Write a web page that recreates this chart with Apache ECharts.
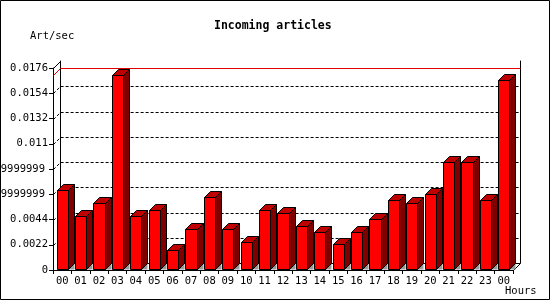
<!DOCTYPE html>
<html><head><meta charset="utf-8">
<script src="https://cdn.jsdelivr.net/npm/echarts@6/dist/echarts.min.js"></script>
<style>html,body{margin:0;padding:0;background:#fff}#c{width:550px;height:300px}</style>
</head><body><div id="c"></div>
<script>
const hours = ['00','01','02','03','04','05','06','07','08','09','10','11','12','13','14','15','16','17','18','19','20','21','22','23','00'];
const artPerSec = [0.0070,0.00474,0.00586,0.01695,0.00474,0.00526,0.00173,0.00361,0.00638,0.00361,0.00248,0.00526,0.0050,0.00387,0.00335,0.00223,0.00335,0.00448,0.00612,0.00586,0.00664,0.00941,0.00941,0.00612,0.01652];
const yTickLabels = ['0','0.0022','0.0044','0.0065999999999999','0.0087999999999999','0.011','0.0132','0.0154','0.0176'];
const yMax = 0.0176, yStep = 0.0022;

const FONT = 'DejaVu Sans Mono';
const D = 6;      // bar depth
const PD = 7;     // plane depth
const maxVal = Math.max.apply(null, artPerSec);

const chart = echarts.init(document.getElementById('c'), null, {renderer:'canvas'});
const px = v => Math.round(v) + 0.5;

chart.setOption({
  animation: false,
  backgroundColor: '#fff',
  title: {
    text: 'Incoming articles', left: 214, top: 20, padding: 0,
    textStyle: {fontFamily: FONT, fontWeight: 'bold', fontSize: 11.5, color: '#000'}
  },
  graphic: [
    {type:'rect', shape:{x:0.5,y:0.5,width:549,height:299}, style:{fill:null, stroke:'#000', lineWidth:1}, silent:true, z:100},
    {type:'text', x:30, y:31, style:{text:'Art/sec', font:'10.5px "DejaVu Sans Mono"', fill:'#000'}},
    {type:'text', x:505, y:286, style:{text:'Hours', font:'10.5px "DejaVu Sans Mono"', fill:'#000'}}
  ],
  grid: [
    {left:53, top:68, width:460, height:202, containLabel:false, outerBoundsMode:'none'},
    {left:60, top:61, width:460, height:202, containLabel:false, outerBoundsMode:'none'}
  ],
  xAxis: [
    {gridIndex:0, type:'category', data:hours, boundaryGap:true,
     axisLine:{show:true, lineStyle:{color:'#000', width:1}},
     axisTick:{show:true, length:4, inside:false, lineStyle:{color:'#000'}},
     axisLabel:{fontFamily:FONT, fontSize:10.5, color:'#000', margin:6, interval:0, hideOverlap:false},
     splitLine:{show:false}, z:5},
    {gridIndex:1, type:'category', data:hours, position:'top',
     axisLine:{show:true, lineStyle:{color:'#000', width:1}},
     axisTick:{show:false}, axisLabel:{show:false}, splitLine:{show:false}}
  ],
  yAxis: [
    {gridIndex:0, type:'value', min:0, max:yMax, interval:yStep,
     axisLine:{show:true, lineStyle:{color:'#000', width:1}},
     axisTick:{show:true, length:4, inside:false, lineStyle:{color:'#000'}},
     axisLabel:{fontFamily:FONT, fontSize:10.5, color:'#000', margin:5, hideOverlap:false,
       formatter: v => {
         const s = yTickLabels[Math.round(v / yStep)];
         return s.length > 8 ? '{l|' + s + '}' : s;
       },
       rich:{l:{fontFamily:FONT, fontSize:10.5, color:'#000', padding:[0,3,0,0]}}},
     splitLine:{show:false}},
    {gridIndex:1, type:'value', min:0, max:yMax, interval:yStep,
     axisLine:{show:true, lineStyle:{color:'#000', width:1}},
     axisTick:{show:false}, axisLabel:{show:false}, splitLine:{show:false}},
    {gridIndex:1, type:'value', min:0, max:yMax, interval:yStep, position:'right',
     axisLine:{show:true, lineStyle:{color:'#000', width:1}},
     axisTick:{show:false}, axisLabel:{show:false}, splitLine:{show:false}}
  ],
  series: [
    {
      // dashed grid lines running from the front axis onto the back plane
      type:'custom', xAxisIndex:0, yAxisIndex:0, z:1, silent:true,
      data: yTickLabels.slice(1, yTickLabels.length - 1).map((s, k) => [0, (k + 1) * yStep]),
      renderItem: (params, api) => {
        const bw = api.size([1,0])[0];
        const first = api.coord([0, api.value(1)]);
        const last = api.coord([hours.length - 1, api.value(1)]);
        const xL = px(first[0] - bw/2), xR = px(last[0] + bw/2);
        const y = px(first[1]);
        return {type:'polyline', shape:{points:[[xL, y],[xL+PD, y-PD],[xR+PD, y-PD]]},
          style:{stroke:'#000', lineWidth:1, fill:null, lineDash:[3,2]}};
      }
    },
    {
      type:'custom', xAxisIndex:0, yAxisIndex:0, z:1, silent:true,
      data:[[0, maxVal]],
      renderItem: (params, api) => {
        const bw = api.size([1,0])[0];
        const first = api.coord([0, 0]);
        const last = api.coord([hours.length - 1, 0]);
        const xL = px(first[0] - bw/2), xR = px(last[0] + bw/2);
        const yTop = px(api.coord([0, yMax])[1]);
        const y0 = px(first[1]);
        const yM = px(api.coord([0, api.value(1)])[1]);
        return {type:'group', children:[
          {type:'polyline', shape:{points:[[xL, yTop],[xL+PD, yTop-PD]]}, style:{stroke:'#000', lineWidth:1, fill:null}},
          {type:'polyline', shape:{points:[[xR, y0],[xR+PD, y0-PD]]}, style:{stroke:'#000', lineWidth:1, fill:null}},
          {type:'polyline', shape:{points:[[xL, yM],[xL+PD, yM-PD],[xR+PD, yM-PD]]}, style:{stroke:'#e00000', lineWidth:1, fill:null}}
        ]};
      }
    },
    {
      type:'custom', xAxisIndex:0, yAxisIndex:0, z:3, silent:true,
      data: artPerSec.map((v, i) => [i, v]),
      renderItem: (params, api) => {
        const i = api.value(0), v = api.value(1);
        const top = api.coord([i, v]);
        const base = api.coord([i, 0]);
        const bw = api.size([1,0])[0] * 0.6;
        const xl = px(top[0] - bw/2), xr = px(top[0] + bw/2);
        const yt = px(top[1]), yb = px(base[1]) - 1;
        return {type:'group', children:[
          {type:'polygon', shape:{points:[[xr, yb],[xr+D, yb-D],[xr+D, yb]]}, style:{fill:'#9a9a9a', stroke:null}},
          {type:'polygon', shape:{points:[[xr, yt],[xr+D, yt-D],[xr+D, yb-D],[xr, yb]]}, style:{fill:'#800000', stroke:'#000', lineWidth:1}},
          {type:'polygon', shape:{points:[[xl, yt],[xl+D, yt-D],[xr+D, yt-D],[xr, yt]]}, style:{fill:'#c00000', stroke:'#000', lineWidth:1}},
          {type:'rect', shape:{x:xl, y:yt, width:xr-xl, height:yb-yt}, style:{fill:'#ff0000', stroke:'#000', lineWidth:1}}
        ]};
      }
    }
  ]
});
</script></body></html>
